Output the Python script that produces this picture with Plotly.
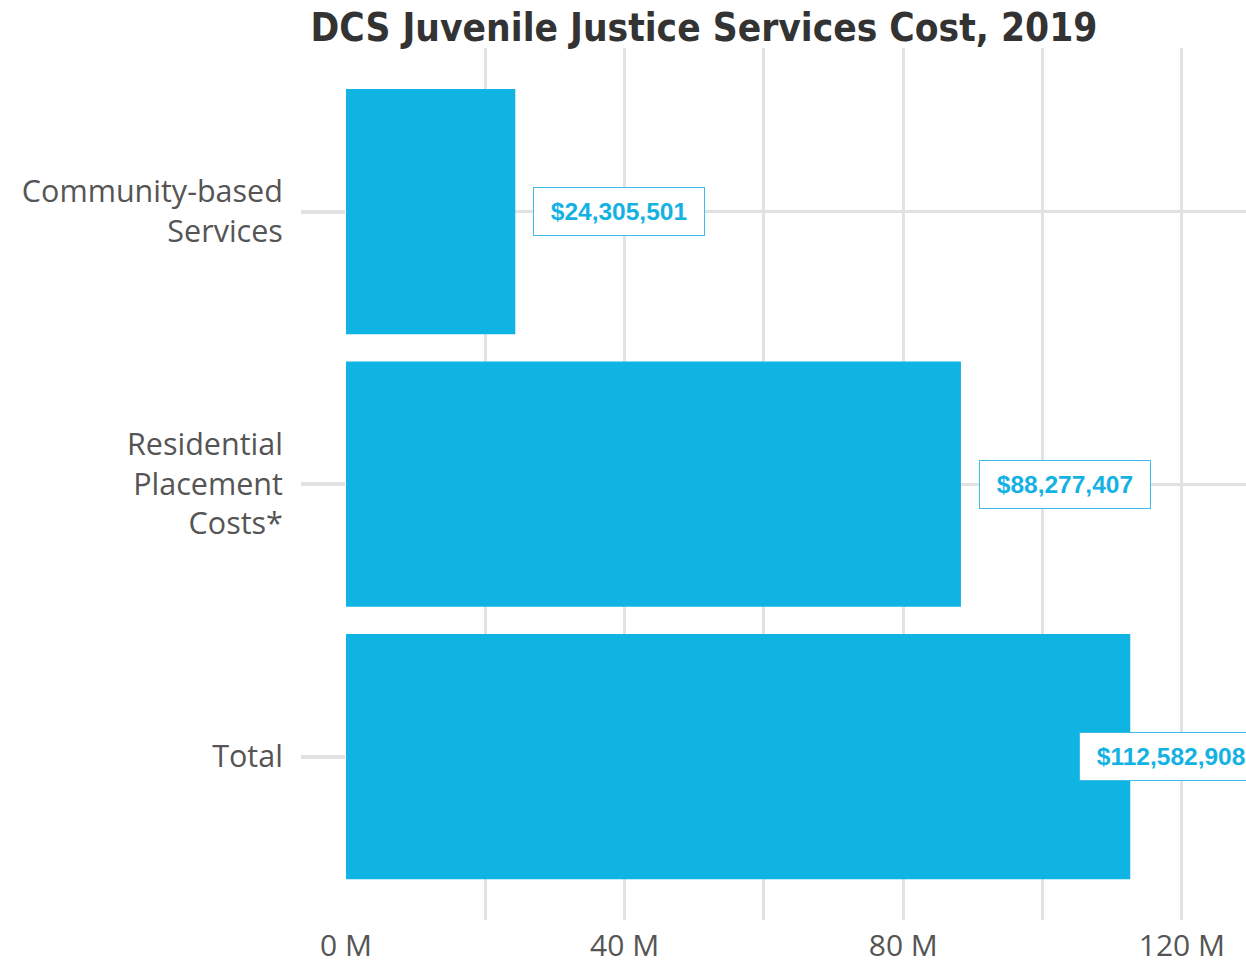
import plotly.graph_objects as go

# Juvenile justice services cost by category, 2019 (USD)
categories = ["Community-based<br>Services", "Residential<br>Placement<br>Costs*", "Total"]
costs = [24305501, 88277407, 112582908]
cost_labels = ["$24,305,501", "$88,277,407", "$112,582,908"]

tick_values = [0, 20e6, 40e6, 60e6, 80e6, 100e6, 120e6]
tick_text = ["0 M", "", "40 M", "", "80 M", "", "120 M"]

BAR = "#10b4e3"
GRID = "#e2e2e2"
NBSP = "\u00a0"

fig = go.Figure(
    go.Bar(
        y=categories,
        x=costs,
        orientation="h",
        marker=dict(color=BAR, line=dict(width=0)),
        width=0.9,
        hoverinfo="skip",
    )
)

# value labels sit right of each bar; the last one is pulled back to stay on the page
label_shift = [18, 18, -51]
for cat, val, lab, shift in zip(categories, costs, cost_labels, label_shift):
    fig.add_annotation(
        x=val, y=cat, xref="x", yref="y",
        text=NBSP + lab + NBSP, showarrow=False,
        xanchor="left", yanchor="middle", xshift=shift,
        font=dict(family="Liberation Sans, Arial", size=24.5, color="#14b2e3", weight="bold"),
        bgcolor="white", bordercolor="#3fbde6", borderwidth=1, borderpad=10,
    )

fig.update_layout(
    width=1246, height=966,
    margin=dict(l=346, r=0, t=48, b=46),
    paper_bgcolor="white", plot_bgcolor="white",
    showlegend=False,
    title=dict(
        text="<b>DCS Juvenile Justice Services Cost, 2019</b>",
        font=dict(family="DejaVu Sans Condensed, Open Sans", size=38.5, color="#333333"),
        x=704 / 1246, xanchor="center", xref="container",
        y=1 - 28 / 966, yanchor="middle", yref="container",
    ),
    xaxis=dict(
        range=[0, 129.2e6], automargin=False,
        tickvals=tick_values, ticktext=tick_text,
        showgrid=True, gridcolor=GRID, gridwidth=3,
        zeroline=False, showline=False, ticks="",
        tickfont=dict(family="Open Sans", size=30, color="#555555"),
        ticklabelstandoff=5,
    ),
    yaxis=dict(
        autorange=False, range=[2.6, -0.6], automargin=False,
        showgrid=True, gridcolor=GRID, gridwidth=3,
        zeroline=False, showline=False,
        ticks="outside", ticklen=44, tickwidth=4, tickcolor=GRID,
        tickfont=dict(family="Open Sans", size=30.5, color="#555555"),
        ticklabelstandoff=12,
    ),
)

fig.write_html("out.html")
